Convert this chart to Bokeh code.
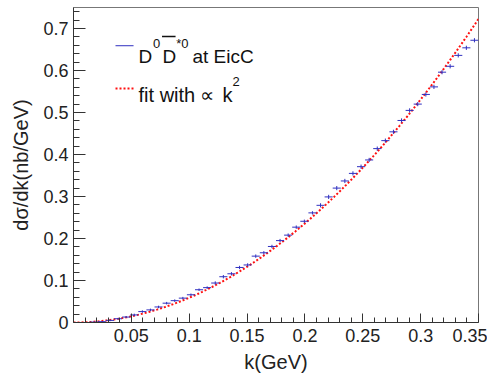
import numpy as np
from bokeh.plotting import figure
from bokeh.models import ColumnDataSource, Range1d, FixedTicker, Label
from bokeh.embed import file_html
from bokeh.resources import INLINE

# ---- data ----
bin_width = 0.007
k_centers = [0.0035 + 0.007 * i for i in range(50)]
dsigma = [0.000, 0.000, 0.001, 0.002, 0.005, 0.009, 0.013, 0.018, 0.026, 0.030,
          0.037, 0.046, 0.052, 0.058, 0.066, 0.078, 0.083, 0.094, 0.109, 0.116,
          0.131, 0.137, 0.158, 0.166, 0.181, 0.195, 0.208, 0.227, 0.241, 0.261,
          0.279, 0.299, 0.320, 0.337, 0.355, 0.371, 0.387, 0.414, 0.433, 0.454,
          0.481, 0.505, 0.520, 0.543, 0.561, 0.596, 0.610, 0.636, 0.654, 0.672]
dsigma_err = [0.000, 0.000, 0.001, 0.001, 0.002, 0.002, 0.002, 0.003, 0.003, 0.003,
              0.003, 0.003, 0.003, 0.003, 0.003, 0.003, 0.003, 0.004, 0.004, 0.004,
              0.004, 0.004, 0.004, 0.004, 0.004, 0.004, 0.004, 0.004, 0.004, 0.004,
              0.005, 0.005, 0.005, 0.005, 0.005, 0.005, 0.005, 0.005, 0.005, 0.005,
              0.005, 0.005, 0.005, 0.005, 0.005, 0.005, 0.005, 0.005, 0.005, 0.005]
fit_coef = 5.9  # fit: dsigma/dk = fit_coef * k^2

x_ticks = [0.05, 0.1, 0.15, 0.2, 0.25, 0.3, 0.35]
x_tick_labels = ["0.05", "0.1", "0.15", "0.2", "0.25", "0.3", "0.35"]
y_ticks = [0, 0.1, 0.2, 0.3, 0.4, 0.5, 0.6, 0.7]
y_tick_labels = ["0", "0.1", "0.2", "0.3", "0.4", "0.5", "0.6", "0.7"]

FONT = "Liberation Sans"
BLUE = "#3030c0"
RED = "#ff1010"

p = figure(frame_width=405, frame_height=315,
           min_border_left=73, min_border_right=9, min_border_top=7, min_border_bottom=48,
           x_range=Range1d(0, 0.35), y_range=Range1d(0, 0.75),
           output_backend="svg", toolbar_location=None)
p.xgrid.grid_line_color = None
p.ygrid.grid_line_color = None
p.outline_line_color = "#777777"
p.outline_line_width = 1
p.background_fill_color = "white"
p.border_fill_color = "white"

# axes
p.xaxis.ticker = FixedTicker(ticks=x_ticks, minor_ticks=list(np.round(np.arange(0.01, 0.35, 0.01), 3)))
p.yaxis.ticker = FixedTicker(ticks=y_ticks, minor_ticks=list(np.round(np.arange(0.02, 0.75, 0.02), 3)))
p.xaxis.major_label_overrides = {t: s for t, s in zip(x_ticks, x_tick_labels)}
p.yaxis.major_label_overrides = {t: s for t, s in zip(y_ticks, y_tick_labels)}
for ax in (p.xaxis[0], p.yaxis[0]):
    ax.axis_line_color = "#333333"
    ax.major_tick_line_color = "#333333"
    ax.minor_tick_line_color = "#333333"
    ax.major_tick_out = 0
    ax.minor_tick_out = 0
    ax.major_label_text_font = FONT
    ax.major_label_text_font_size = "18px"
    ax.major_label_text_color = "#222222"
    ax.axis_label_text_font = FONT
    ax.axis_label_text_font_size = "20px"
    ax.axis_label_text_font_style = "normal"
    ax.axis_label_text_color = "#222222"
p.xaxis.major_tick_in = 9
p.xaxis.minor_tick_in = 5
p.yaxis.major_tick_in = 12
p.yaxis.minor_tick_in = 6
p.xaxis.major_label_standoff = 6
p.yaxis.major_label_standoff = 5
p.xaxis.axis_label = "k(GeV)"
p.yaxis.axis_label = "dσ/dk(nb/GeV)"
p.xaxis.axis_label_standoff = 6
p.yaxis.axis_label_standoff = 8

# fit curve
k_fit = np.linspace(0, 0.35, 200)
p.line(k_fit, fit_coef * k_fit ** 2, line_color=RED, line_width=2, line_dash="2 2")

# data points with error bars
k = np.array(k_centers)
y = np.array(dsigma)
e = np.array(dsigma_err)
src = ColumnDataSource(dict(x0=k - bin_width / 2, x1=k + bin_width / 2, y=y,
                            k=k, ylo=y - e, yhi=y + e))
p.segment(x0="x0", y0="y", x1="x1", y1="y", source=src, line_color=BLUE, line_width=1)
p.segment(x0="k", y0="ylo", x1="k", y1="yhi", source=src, line_color=BLUE, line_width=1)

# legend (manually composed)
p.line([0.0363, 0.0519], [0.659, 0.659], line_color=BLUE, line_width=1)
p.line([0.0363, 0.0519], [0.557, 0.557], line_color=RED, line_width=2, line_dash="2 2")

def lab(x, yv, txt, size):
    p.add_layout(Label(x=x, y=yv, text=txt, text_font=FONT, text_font_size=size,
                       text_color="#111111", text_baseline="alphabetic", text_align="left"))

lab(0.0562, 0.633, "D", "19px")
lab(0.0686, 0.664, "0", "13px")
lab(0.0769, 0.633, "D", "19px")
p.line([0.0765, 0.0882], [0.681, 0.681], line_color="#111111", line_width=1.5)
lab(0.0888, 0.664, "*0", "13px")
lab(0.1028, 0.633, "at EicC", "19px")
lab(0.0562, 0.5425, "fit with", "20px")
lab(0.1096, 0.5425, "∝", "20px")
lab(0.1288, 0.5425, "k", "20px")
lab(0.1374, 0.573, "2", "13px")

open("out.html", "w").write(file_html(p, INLINE))
